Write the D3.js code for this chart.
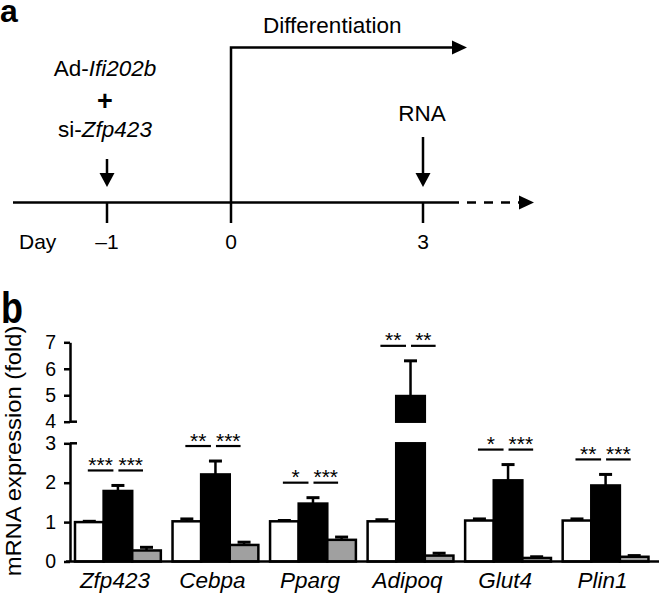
<!DOCTYPE html>
<html>
<head>
<meta charset="utf-8">
<script src="https://cdn.jsdelivr.net/npm/d3@7"></script>
<style>
  body { margin: 0; background: #fff; }
  text { font-family: "Liberation Sans", Arial, Helvetica, sans-serif; fill: #000; }
</style>
</head>
<body>
<svg id="fig" width="661" height="594"></svg>
<script>
// ---- data ----
var genes = ["Zfp423", "Cebpa", "Pparg", "Adipoq", "Glut4", "Plin1"];
var groups = ["ctrl", "ad", "adsi"];
var ctrlMean = [1.00, 1.02, 1.02, 1.02, 1.04, 1.04];
var ctrlErr  = [0.02, 0.06, 0.02, 0.04, 0.04, 0.04];
var adMean   = [1.79, 2.21, 1.47, 4.97, 2.06, 1.93];
var adErr    = [0.14, 0.34, 0.15, 1.33, 0.40, 0.28];
var adsiMean = [0.28, 0.42, 0.55, 0.15, 0.09, 0.12];
var adsiErr  = [0.08, 0.07, 0.07, 0.06, 0.03, 0.03];
var sigLeft  = ["***", "**", "*", "**", "*", "**"];
var sigRight = ["***", "***", "***", "**", "***", "***"];
var lowTicks = [0, 1, 2, 3];
var highTicks = [4, 5, 6, 7];
var days = [-1, 0, 3];
var dayLabels = ["\u20131", "0", "3"];

var svg = d3.select("#fig");
var lw = 2.5;

// ================= panel a : timeline =================
var dayX = d3.scaleLinear().domain(days).range([107, 231, 423]);
var lineY = 202.5;
var a = svg.append("g");

a.append("text").attr("x", 0).attr("y", 22)
  .attr("font-size", 32).attr("font-weight", "bold").text("a");

// main axis (solid then dashed)
a.append("line").attr("x1", 13).attr("x2", 459).attr("y1", lineY).attr("y2", lineY)
  .attr("stroke", "#000").attr("stroke-width", lw);
a.append("line").attr("x1", 467).attr("x2", 519).attr("y1", lineY).attr("y2", lineY)
  .attr("stroke", "#000").attr("stroke-width", lw).attr("stroke-dasharray", "9,8");
function rightHead(x, y) {
  a.append("path").attr("d", "M" + (x - 15) + "," + (y - 7) + "L" + x + "," + y + "L" + (x - 15) + "," + (y + 7) + "Z")
    .attr("fill", "#000");
}
rightHead(534, lineY);

// day ticks
a.selectAll(".dtick").data(days).enter().append("line")
  .attr("x1", function (d) { return dayX(d); }).attr("x2", function (d) { return dayX(d); })
  .attr("y1", lineY).attr("y2", 223).attr("stroke", "#000").attr("stroke-width", lw);
a.append("text").attr("x", 19).attr("y", 249).attr("font-size", 21).text("Day");
a.selectAll(".dlab").data(days).enter().append("text")
  .attr("x", function (d) { return dayX(d); }).attr("y", 249)
  .attr("text-anchor", "middle").attr("font-size", 21)
  .text(function (d, i) { return dayLabels[i]; });

// differentiation arrow from day 0
a.append("path")
  .attr("d", "M" + dayX(0) + "," + lineY + "V47.5H453")
  .attr("fill", "none").attr("stroke", "#000").attr("stroke-width", lw);
rightHead(467, 47.5);
a.append("text").attr("x", 263).attr("y", 33).attr("font-size", 22.5).text("Differentiation");

// down arrows
function downArrow(x, y0, y1) {
  a.append("line").attr("x1", x).attr("x2", x).attr("y1", y0).attr("y2", y1 - 12)
    .attr("stroke", "#000").attr("stroke-width", lw);
  a.append("path").attr("d", "M" + (x - 7.5) + "," + (y1 - 14) + "L" + x + "," + y1 + "L" + (x + 7.5) + "," + (y1 - 14) + "Z")
    .attr("fill", "#000");
}
downArrow(dayX(-1), 159, 187);
downArrow(dayX(3), 137, 187);

var t1 = a.append("text").attr("x", dayX(-1) - 2).attr("y", 76).attr("text-anchor", "middle").attr("font-size", 22.5);
t1.append("tspan").text("Ad-");
t1.append("tspan").attr("font-style", "italic").text("Ifi202b");
a.append("text").attr("x", dayX(-1) - 2).attr("y", 110).attr("text-anchor", "middle")
  .attr("font-size", 27).attr("font-weight", "bold").text("+");
var t2 = a.append("text").attr("x", dayX(-1) - 2).attr("y", 137).attr("text-anchor", "middle").attr("font-size", 22.5);
t2.append("tspan").text("si-");
t2.append("tspan").attr("font-style", "italic").text("Zfp423");
a.append("text").attr("x", dayX(3) - 1).attr("y", 121).attr("text-anchor", "middle")
  .attr("font-size", 22.5).text("RNA");

// ================= panel b : bar chart =================
var b = svg.append("g");
b.append("text").attr("transform", "translate(1,323) scale(1,1.22)")
  .attr("font-size", 36).attr("font-weight", "bold").text("b");

var axisX = 70;
var yLow = d3.scaleLinear().domain([0, 3]).range([561.5, 443.3]);
var yHigh = d3.scaleLinear().domain([4, 7]).range([421.7, 342.3]);
function yv(v) { return v <= 3 ? yLow(v) : yHigh(v); }

var x0 = d3.scaleBand().domain(genes).range([75, 648.5]).paddingInner(0.12).paddingOuter(0);
var x1 = d3.scaleBand().domain(groups).range([0, x0.bandwidth()]);
var fills = { ctrl: "#fff", ad: "#000", adsi: "#a0a0a0" };

var rows = genes.map(function (g, i) {
  return {
    gene: g,
    bars: [
      { key: "ctrl", mean: ctrlMean[i], err: ctrlErr[i] },
      { key: "ad", mean: adMean[i], err: adErr[i] },
      { key: "adsi", mean: adsiMean[i], err: adsiErr[i] }
    ],
    sig: [sigLeft[i], sigRight[i]]
  };
});

var gg = b.selectAll(".gene").data(rows).enter().append("g")
  .attr("transform", function (d) { return "translate(" + x0(d.gene) + ",0)"; });

gg.each(function (d) {
  var g = d3.select(this);
  d.bars.forEach(function (bar) {
    var bx = x1(bar.key), bw = x1.bandwidth();
    // segments: broken bar when the value passes the axis break
    var segs = bar.mean <= 3 ? [[0, bar.mean, yLow]] : [[0, 3, yLow], [4, bar.mean, yHigh]];
    segs.forEach(function (s) {
      var sc = s[2];
      g.append("rect").attr("x", bx).attr("width", bw)
        .attr("y", sc(s[1])).attr("height", sc(s[0]) - sc(s[1]))
        .attr("fill", fills[bar.key]).attr("stroke", "#000").attr("stroke-width", lw);
    });
    var cx = bx + bw / 2;
    var top = yv(bar.mean), capY = yv(bar.mean + bar.err);
    g.append("line").attr("x1", cx).attr("x2", cx).attr("y1", top).attr("y2", capY)
      .attr("stroke", "#000").attr("stroke-width", lw);
    g.append("line").attr("x1", cx - 6.5).attr("x2", cx + 6.5).attr("y1", capY).attr("y2", capY)
      .attr("stroke", "#000").attr("stroke-width", 3);
  });

  // significance brackets
  var half = x1.bandwidth() / 2;
  var wC = x1("ctrl") + half, bC = x1("ad") + half, gC = x1("adsi") + half;
  var sy = yv(d.bars[1].mean + d.bars[1].err) - 15;
  var spans = [[wC - 1.5, bC - 4.5], [bC + 0.5, gC - 3.5]];
  spans.forEach(function (sp, k) {
    g.append("line").attr("x1", sp[0]).attr("x2", sp[1]).attr("y1", sy).attr("y2", sy)
      .attr("stroke", "#000").attr("stroke-width", 2.2);
    g.append("text").attr("x", (sp[0] + sp[1]) / 2).attr("y", sy + 1.5)
      .attr("text-anchor", "middle").attr("font-size", 21).text(d.sig[k]);
  });
});

// x baseline
b.append("line").attr("x1", 66).attr("x2", 659).attr("y1", yLow(0)).attr("y2", yLow(0))
  .attr("stroke", "#000").attr("stroke-width", lw);

// category labels
b.selectAll(".cat").data(genes).enter().append("text")
  .attr("x", function (d) { return x0(d) + x0.bandwidth() / 2 - 3; })
  .attr("y", 588).attr("text-anchor", "middle")
  .attr("font-size", 22.5).attr("font-style", "italic")
  .text(function (d) { return d; });

// broken y axis
function drawAxis(scale, ticks) {
  var ax = b.append("g").attr("transform", "translate(" + axisX + ",0)")
    .call(d3.axisLeft(scale).tickValues(ticks).tickFormat(d3.format("d"))
      .tickSize(6).tickSizeOuter(0).tickPadding(8));
  ax.select(".domain").attr("stroke-width", lw);
  ax.selectAll(".tick line").attr("stroke-width", lw);
  ax.selectAll(".tick text").attr("font-size", 19.5)
    .attr("font-family", "'Liberation Sans', Arial, sans-serif").attr("fill", "#000");
}
drawAxis(yLow, lowTicks);
drawAxis(yHigh, highTicks);
// caps at the break
[yLow(3), yHigh(4)].forEach(function (y) {
  b.append("line").attr("x1", axisX).attr("x2", axisX + 7).attr("y1", y).attr("y2", y)
    .attr("stroke", "#000").attr("stroke-width", lw);
});

// y label (slightly stretched along its length like the original)
b.append("text")
  .attr("transform", "translate(21,451) rotate(-90) scale(1.08,1)")
  .attr("text-anchor", "middle").attr("font-size", 22)
  .text("mRNA expression (fold)");
</script>
</body>
</html>
